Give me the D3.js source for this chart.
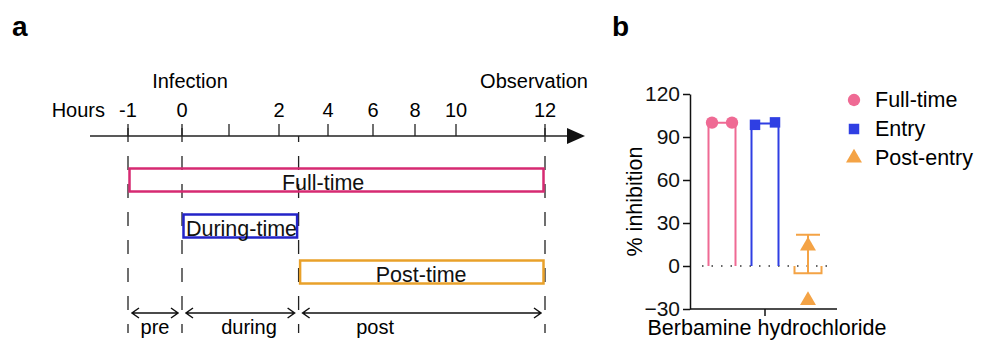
<!DOCTYPE html>
<html>
<head>
<meta charset="utf-8">
<script src="https://cdn.jsdelivr.net/npm/d3@7"></script>
<style>
  body { margin: 0; background: #fff; }
  svg { font-family: Arial, "Liberation Sans", sans-serif; }
</style>
</head>
<body>
<div id="chart"></div>
<script>
// panel a: timeline schematic
const hourTicks = [-1, 0, 1, 2, 4, 6, 8, 10, 12]
const hourLabels = ['-1', '0', '', '2', '4', '6', '8', '10', '12']
const windowNames = ['Full-time', 'During-time', 'Post-time']
const windowStart = [-1, 0, 2.8]
const windowEnd = [12, 2.8, 12]
const windowLabelAt = [3.8, 1.25, 8.3]
const phaseNames = ['pre', 'during', 'post']
const phaseStart = [-1, 0, 2.8]
const phaseEnd = [0, 2.8, 12]
const phaseLabelAt = [-0.5, 1.4, 6.1]
const boundaries = [-1, 0, 2.8, 12]

// panel b: % inhibition replicates
const groups = ['Full-time', 'Entry', 'Post-entry']
const replicates = [[100, 100], [98.5, 100.2], [14, -24]]
const yTicks = [-30, 0, 30, 60, 90, 120]
const xCategory = 'Berbamine hydrochloride'

const width = 985, height = 341

const svg = d3.select('#chart').append('svg')
  .attr('width', width)
  .attr('height', height)

// ---------- panel a ----------
const winColors = ['#d62a72', '#2323c8', '#e9a12a']

// schematic axis, ticks are not evenly spaced in the figure
const x = d3.scaleLinear()
  .domain(hourTicks)
  .range([128, 182, 229, 279, 328, 373, 415, 456, 545])

const axisY = 136
const a = svg.append('g')

a.append('text').text('a')
  .attr('x', 12).attr('y', 36)
  .style('font-size', '28px').style('font-weight', 'bold')

a.append('line')
  .attr('x1', 90).attr('x2', 575)
  .attr('y1', axisY).attr('y2', axisY)
  .attr('stroke', '#222').attr('stroke-width', 1.5)
a.append('path')
  .attr('d', `M567,${axisY - 8}L585,${axisY}L567,${axisY + 8}Z`)
  .attr('fill', '#111')

a.selectAll('.tick')
  .data(hourTicks)
  .enter()
  .append('line')
    .attr('x1', d => x(d)).attr('x2', d => x(d))
    .attr('y1', axisY - 12).attr('y2', axisY)
    .attr('stroke', '#222').attr('stroke-width', 1.3)

a.selectAll('.tickLabel')
  .data(hourTicks)
  .enter()
  .append('text')
    .text((d, i) => hourLabels[i])
    .attr('x', d => x(d)).attr('y', 117)
    .attr('text-anchor', 'middle')
    .style('font-size', '20px')

a.append('text').text('Hours')
  .attr('x', 105).attr('y', 117).attr('text-anchor', 'end')
  .style('font-size', '20px')
a.append('text').text('Infection')
  .attr('x', x(0) + 8).attr('y', 88).attr('text-anchor', 'middle')
  .style('font-size', '20px')
a.append('text').text('Observation')
  .attr('x', x(12) - 11).attr('y', 88).attr('text-anchor', 'middle')
  .style('font-size', '20px')

// dashed guide lines at phase boundaries
a.selectAll('.guide')
  .data(boundaries)
  .enter()
  .append('line')
    .attr('x1', d => x(d)).attr('x2', d => x(d))
    .attr('y1', d => hourTicks.includes(d) ? 128 : axisY)
    .attr('y2', 333)
    .attr('stroke', '#222').attr('stroke-width', 1.3)
    .attr('stroke-dasharray', '14,14')
    .attr('stroke-dashoffset', d => hourTicks.includes(d) ? 0 : 8)

// treatment windows
const row = d3.scalePoint().domain(windowNames).range([180, 272])
const boxH = 23

const wins = a.selectAll('.win')
  .data(windowNames)
  .enter()
  .append('g')

wins.append('rect')
  .attr('x', (d, i) => x(windowStart[i]) + 1.5)
  .attr('y', d => row(d) - boxH / 2)
  .attr('width', (d, i) => x(windowEnd[i]) - x(windowStart[i]) - 3)
  .attr('height', boxH)
  .attr('fill', 'none')
  .attr('stroke', (d, i) => winColors[i])
  .attr('stroke-width', 2.5)

wins.append('text')
  .text(d => d)
  .attr('x', (d, i) => x(windowLabelAt[i]))
  .attr('y', d => row(d) + boxH / 2 - 2)
  .attr('text-anchor', 'middle')
  .style('font-size', '21.5px')
  .attr('fill', '#111')

// phase arrows
const arrowY = 313
const phases = a.selectAll('.phase')
  .data(phaseNames)
  .enter()
  .append('g')

phases.append('path')
  .attr('d', (d, i) => {
    const x0 = x(phaseStart[i]) + 4
    const x1 = x(phaseEnd[i]) - 4
    return `M${x0},${arrowY}L${x1},${arrowY}` +
      `M${x0 + 7},${arrowY - 5}L${x0},${arrowY}L${x0 + 7},${arrowY + 5}` +
      `M${x1 - 7},${arrowY - 5}L${x1},${arrowY}L${x1 - 7},${arrowY + 5}`
  })
  .attr('fill', 'none')
  .attr('stroke', '#111')
  .attr('stroke-width', 1.5)

phases.append('text')
  .text(d => d)
  .attr('x', (d, i) => x(phaseLabelAt[i]))
  .attr('y', 334)
  .attr('text-anchor', 'middle')
  .style('font-size', '20px')

// ---------- panel b ----------
const bColors = ['#ef6a94', '#2f3fe3', '#f4a345']
const y = d3.scaleLinear().domain([-30, 120]).range([309, 94])
const xb = d3.scalePoint().domain(groups).range([722, 808])
const barW = 27
const axisX = 690
const bFont = '21.5px'

const b = svg.append('g')

b.append('text').text('b')
  .attr('x', 612).attr('y', 36)
  .style('font-size', '28px').style('font-weight', 'bold')

const yAxis = b.append('g')
  .attr('transform', `translate(${axisX},0)`)
  .call(d3.axisLeft(y).tickValues(yTicks).tickSize(7).tickSizeOuter(0).tickPadding(3))
yAxis.select('.domain').attr('stroke', '#111').attr('stroke-width', 1.5)
yAxis.selectAll('.tick line').attr('stroke', '#111').attr('stroke-width', 1.5)
yAxis.selectAll('.tick text')
  .attr('fill', '#111')
  .style('font-size', '21px')
  .style('font-family', 'Arial, "Liberation Sans", sans-serif')

b.append('text').text('% inhibition')
  .attr('transform', `translate(642,${y(45)}) rotate(-90)`)
  .attr('text-anchor', 'middle')
  .style('font-size', bFont)

// x axis
b.append('line')
  .attr('x1', axisX).attr('x2', 837)
  .attr('y1', y(-30)).attr('y2', y(-30))
  .attr('stroke', '#111').attr('stroke-width', 1.5)
b.append('line')
  .attr('x1', xb(groups[1])).attr('x2', xb(groups[1]))
  .attr('y1', y(-30)).attr('y2', y(-30) + 7)
  .attr('stroke', '#111').attr('stroke-width', 1.5)
b.append('text').text(xCategory)
  .attr('x', xb(groups[1]) + 2).attr('y', 335)
  .attr('text-anchor', 'middle')
  .style('font-size', bFont)

// dotted zero line
b.append('line')
  .attr('x1', 702).attr('x2', 830)
  .attr('y1', y(0)).attr('y2', y(0))
  .attr('stroke', '#333').attr('stroke-width', 1.3)
  .attr('stroke-dasharray', '1.5,8')

const stats = groups.map((g, i) => ({
  name: g,
  mean: d3.mean(replicates[i]),
  sd: d3.deviation(replicates[i]),
  color: bColors[i],
  values: replicates[i]
}))

// open bars (no edge at baseline)
b.selectAll('.bar')
  .data(stats)
  .enter()
  .append('path')
    .attr('d', d => {
      const x0 = xb(d.name) - barW / 2, x1 = xb(d.name) + barW / 2
      return `M${x0},${y(0)}L${x0},${y(d.mean)}L${x1},${y(d.mean)}L${x1},${y(0)}`
    })
    .attr('fill', 'none')
    .attr('stroke', d => d.color)
    .attr('stroke-width', 2)

// error bars (upper SD)
b.selectAll('.err')
  .data(stats.filter(d => d.sd > 3))
  .enter()
  .append('path')
    .attr('d', d => {
      const cx = xb(d.name)
      return `M${cx},${y(d.mean)}L${cx},${y(d.mean + d.sd)}` +
        `M${cx - 12},${y(d.mean + d.sd)}L${cx + 12},${y(d.mean + d.sd)}`
    })
    .attr('fill', 'none')
    .attr('stroke', d => d.color)
    .attr('stroke-width', 2)

// replicate points
const symbols = [d3.symbolCircle, d3.symbolSquare, d3.symbolTriangle]
const symSize = [120, 110, 110]
const pts = []
stats.forEach((d, i) => {
  d.values.forEach((v, j) => {
    const offset = i === 2 ? 0 : (j === 0 ? -10 : 10)
    pts.push({ g: i, v: v, cx: xb(d.name) + offset })
  })
})

b.selectAll('.pt')
  .data(pts)
  .enter()
  .append('path')
    .attr('d', d => d3.symbol().type(symbols[d.g]).size(symSize[d.g])())
    .attr('transform', d => `translate(${d.cx},${y(d.v)})`)
    .attr('fill', d => bColors[d.g])

// legend
const leg = b.selectAll('.leg')
  .data(groups)
  .enter()
  .append('g')
    .attr('transform', (d, i) => `translate(854,${100 + i * 29})`)

leg.append('path')
  .attr('d', (d, i) => d3.symbol().type(symbols[i]).size(symSize[i])())
  .attr('fill', (d, i) => bColors[i])

leg.append('text')
  .text(d => d)
  .attr('x', 21).attr('y', 7)
  .style('font-size', bFont)
</script>
</body>
</html>
